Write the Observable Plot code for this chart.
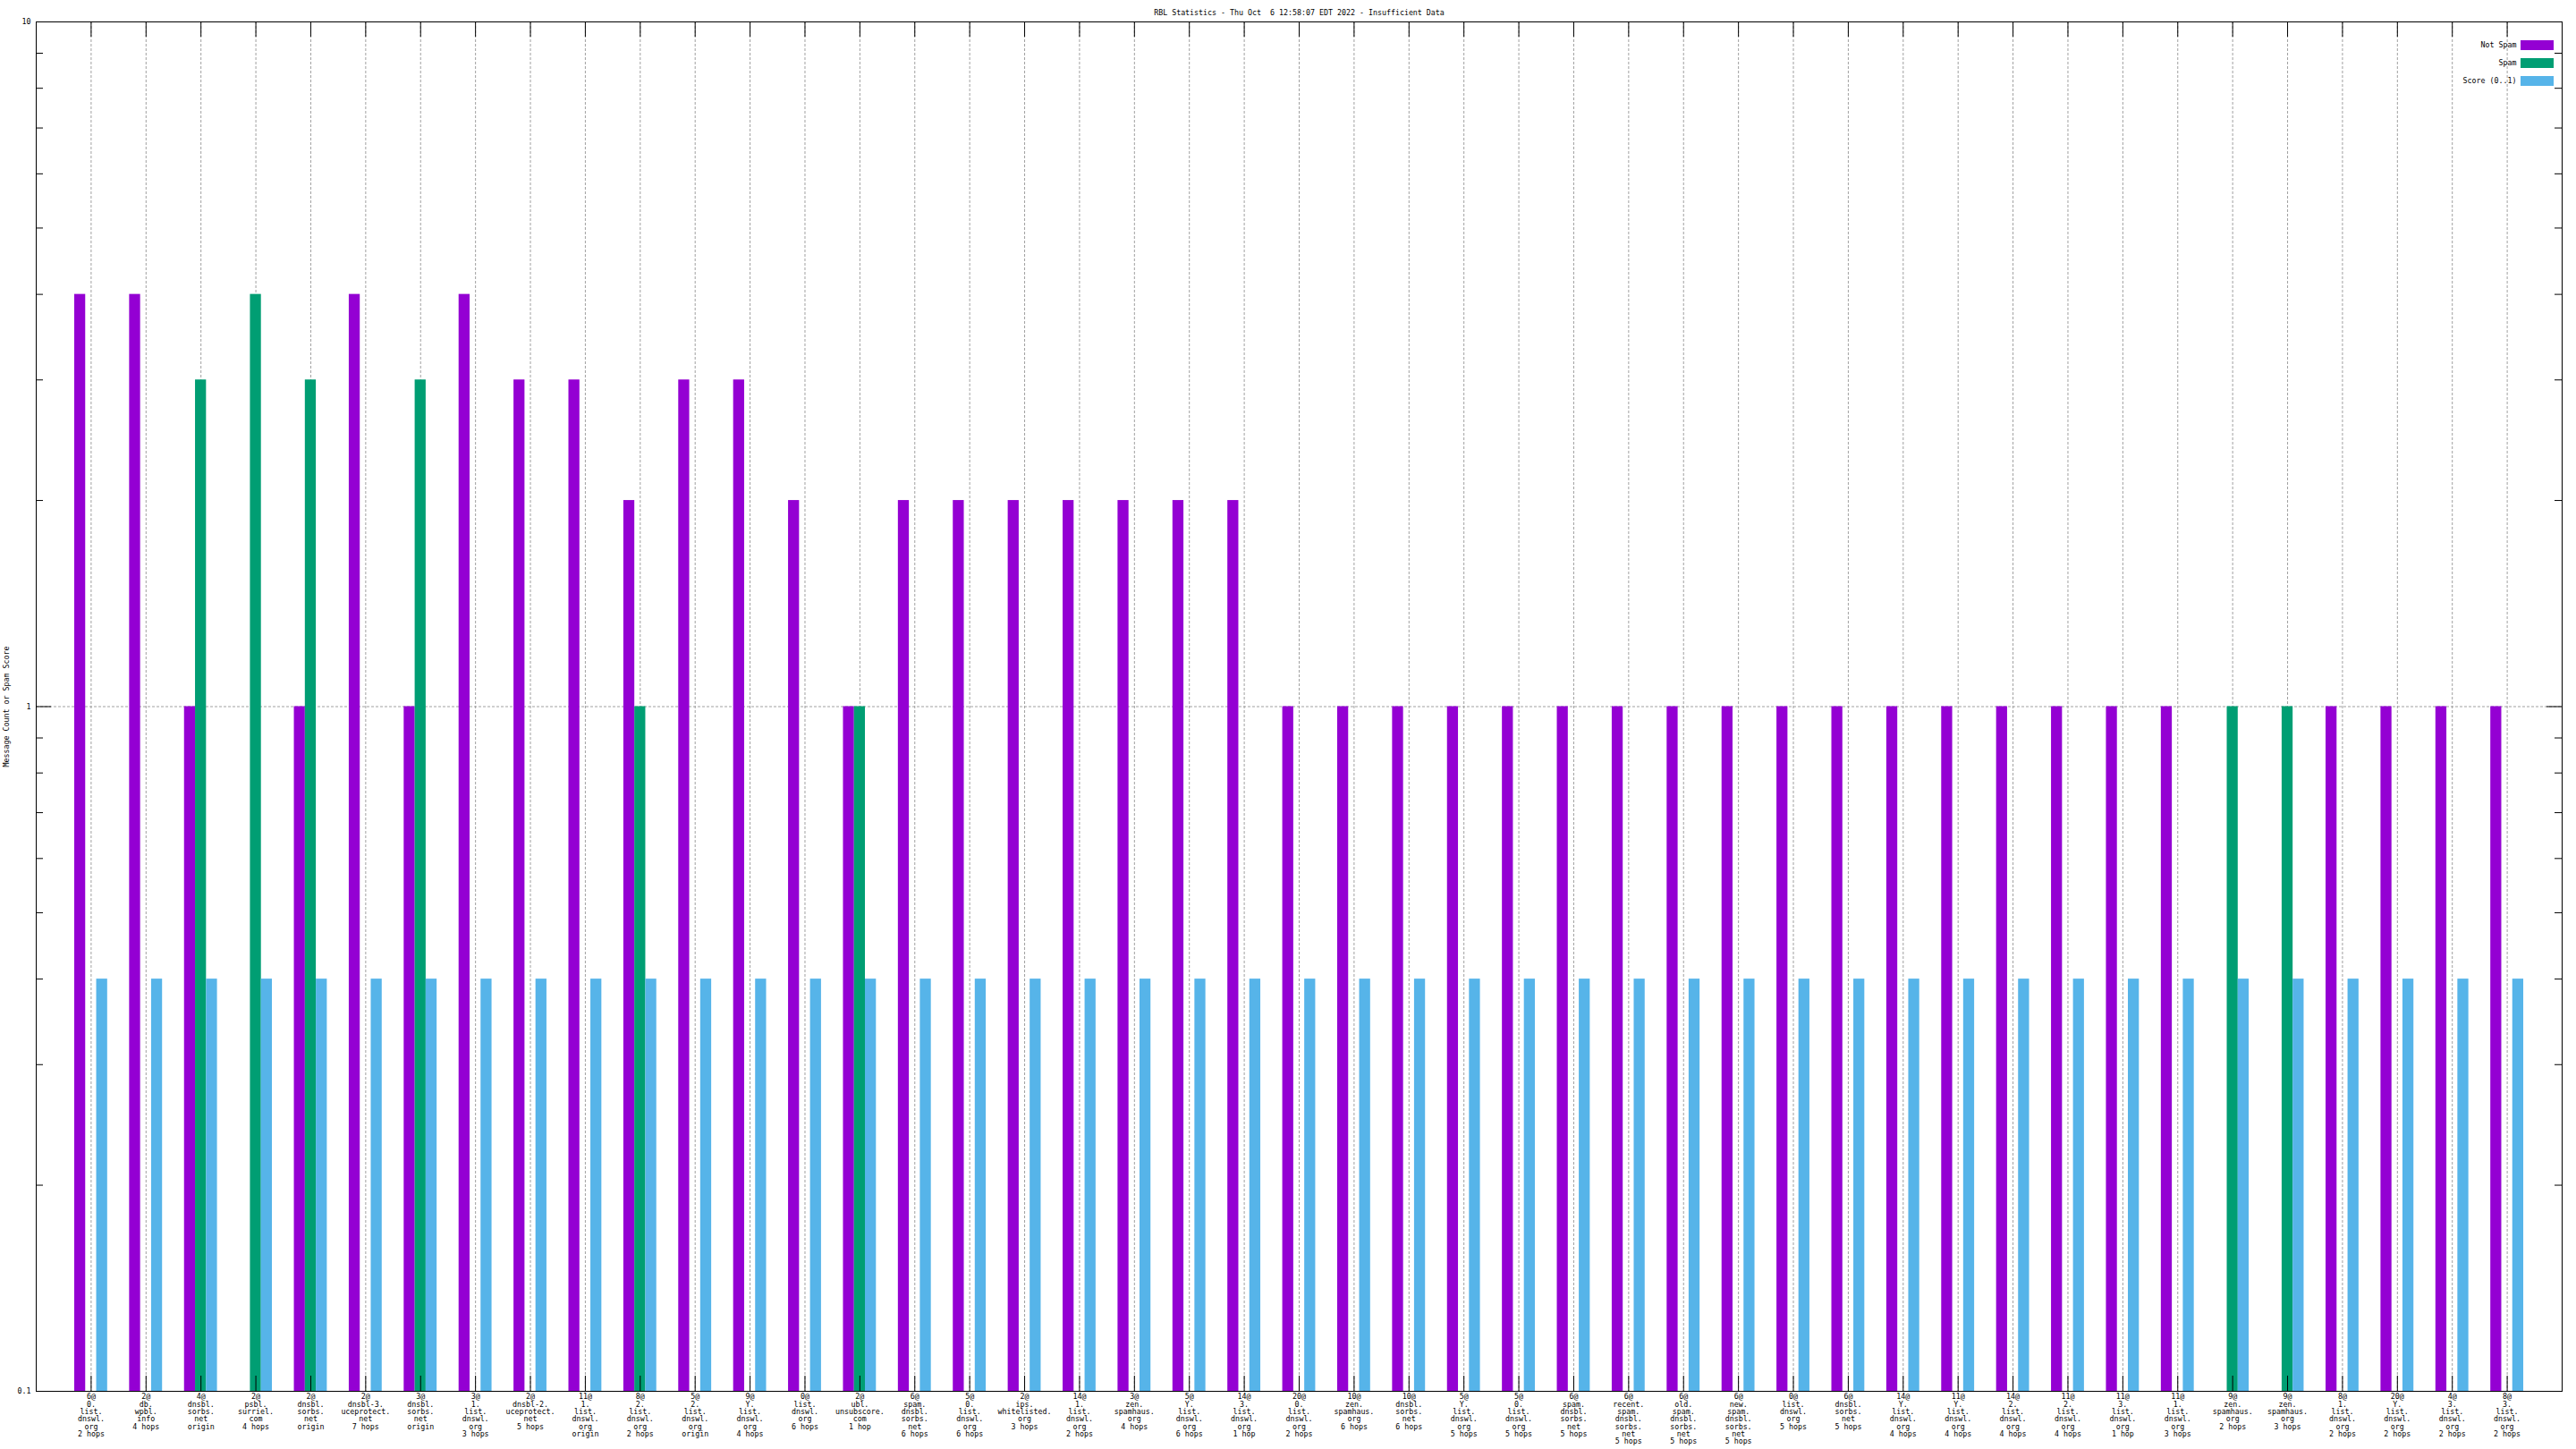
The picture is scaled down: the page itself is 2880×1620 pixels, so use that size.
<!DOCTYPE html>
<html><head><meta charset="utf-8">
<script src="https://cdn.jsdelivr.net/npm/d3@7"></script>
<script src="https://cdn.jsdelivr.net/npm/@observablehq/plot@0.6"></script>
<style>
html,body{margin:0;padding:0;background:#fff;overflow:hidden}
svg text{white-space:pre}
</style>
</head><body><div id="chart"></div>
<script>
const title = "RBL Statistics - Thu Oct  6 12:58:07 EDT 2022 - Insufficient Data";
const yLabel = "Message Count or Spam Score";
const series = ["Not Spam", "Spam", "Score (0..1)"];
const colors = ["#9400d3", "#009e73", "#56b4e9"];

const categories = [
  "6@\n0.\nlist.\ndnswl.\norg\n2 hops",
  "2@\ndb.\nwpbl.\ninfo\n4 hops",
  "4@\ndnsbl.\nsorbs.\nnet\norigin",
  "2@\npsbl.\nsurriel.\ncom\n4 hops",
  "2@\ndnsbl.\nsorbs.\nnet\norigin",
  "2@\ndnsbl-3.\nuceprotect.\nnet\n7 hops",
  "3@\ndnsbl.\nsorbs.\nnet\norigin",
  "3@\n1.\nlist.\ndnswl.\norg\n3 hops",
  "2@\ndnsbl-2.\nuceprotect.\nnet\n5 hops",
  "11@\n1.\nlist.\ndnswl.\norg\norigin",
  "8@\n2.\nlist.\ndnswl.\norg\n2 hops",
  "5@\n2.\nlist.\ndnswl.\norg\norigin",
  "9@\nY.\nlist.\ndnswl.\norg\n4 hops",
  "0@\nlist.\ndnswl.\norg\n6 hops",
  "2@\nubl.\nunsubscore.\ncom\n1 hop",
  "6@\nspam.\ndnsbl.\nsorbs.\nnet\n6 hops",
  "5@\n0.\nlist.\ndnswl.\norg\n6 hops",
  "2@\nips.\nwhitelisted.\norg\n3 hops",
  "14@\n1.\nlist.\ndnswl.\norg\n2 hops",
  "3@\nzen.\nspamhaus.\norg\n4 hops",
  "5@\nY.\nlist.\ndnswl.\norg\n6 hops",
  "14@\n3.\nlist.\ndnswl.\norg\n1 hop",
  "20@\n0.\nlist.\ndnswl.\norg\n2 hops",
  "10@\nzen.\nspamhaus.\norg\n6 hops",
  "10@\ndnsbl.\nsorbs.\nnet\n6 hops",
  "5@\nY.\nlist.\ndnswl.\norg\n5 hops",
  "5@\n0.\nlist.\ndnswl.\norg\n5 hops",
  "6@\nspam.\ndnsbl.\nsorbs.\nnet\n5 hops",
  "6@\nrecent.\nspam.\ndnsbl.\nsorbs.\nnet\n5 hops",
  "6@\nold.\nspam.\ndnsbl.\nsorbs.\nnet\n5 hops",
  "6@\nnew.\nspam.\ndnsbl.\nsorbs.\nnet\n5 hops",
  "0@\nlist.\ndnswl.\norg\n5 hops",
  "6@\ndnsbl.\nsorbs.\nnet\n5 hops",
  "14@\nY.\nlist.\ndnswl.\norg\n4 hops",
  "11@\nY.\nlist.\ndnswl.\norg\n4 hops",
  "14@\n2.\nlist.\ndnswl.\norg\n4 hops",
  "11@\n2.\nlist.\ndnswl.\norg\n4 hops",
  "11@\n3.\nlist.\ndnswl.\norg\n1 hop",
  "11@\n1.\nlist.\ndnswl.\norg\n3 hops",
  "9@\nzen.\nspamhaus.\norg\n2 hops",
  "9@\nzen.\nspamhaus.\norg\n3 hops",
  "8@\n1.\nlist.\ndnswl.\norg\n2 hops",
  "20@\nY.\nlist.\ndnswl.\norg\n2 hops",
  "4@\n3.\nlist.\ndnswl.\norg\n2 hops",
  "8@\n3.\nlist.\ndnswl.\norg\n2 hops"
];

const notSpam = [4,4,1,0,1,4,1,4,3,3,2,3,3,2,1,2,2,2,2,2,2,2,
                 1,1,1,1,1,1,1,1,1,1,1,1,1,1,1,1,1,
                 0,0,1,1,1,1];
const spam    = [0,0,3,4,3,0,3,0,0,0,1,0,0,0,1,0,0,0,0,0,0,0,
                 0,0,0,0,0,0,0,0,0,0,0,0,0,0,0,0,0,
                 1,1,0,0,0,0];
const score   = [0.4,0.4,0.4,0.4,0.4,0.4,0.4,0.4,0.4,0.4,0.4,0.4,0.4,0.4,0.4,
                 0.4,0.4,0.4,0.4,0.4,0.4,0.4,0.4,0.4,0.4,0.4,0.4,0.4,0.4,0.4,
                 0.4,0.4,0.4,0.4,0.4,0.4,0.4,0.4,0.4,0.4,0.4,0.4,0.4,0.4,0.4];

const yTicks = [0.1, 1, 10];
const yTickLabels = ["0.1", "1", "10"];
const yMinorTicks = [0.2,0.3,0.4,0.5,0.6,0.7,0.8,0.9,2,3,4,5,6,7,8,9];

// ---- build table ----
const valueSets = [notSpam, spam, score];
const rows = [];
categories.forEach((c, i) => {
  valueSets.forEach((vals, s) => {
    if (vals[i] > 0) rows.push({idx: i + 1, s, series: series[s], value: vals[i]});
  });
});
const idx = categories.map((c, i) => i + 1);

const W = 2880, H = 1620, mL = 40, mR = 16, mT = 24, mB = 65;
const innerW = W - mL - mR, innerH = H - mT - mB;
const font = "DejaVu Sans Mono";
const fs = 8.3;
const grid = "#a0a0a0";
const bw = 0.2; // bar width in group units

const legendSwatches = (index, scales, values, dims) => {
  const g = d3.create("svg:g");
  const xr = dims.width - dims.marginRight;
  series.forEach((s, i) => {
    g.append("rect")
      .attr("x", xr - 46).attr("y", dims.marginTop + 21 + 20 * i)
      .attr("width", 37).attr("height", 11)
      .attr("fill", scales.color ? scales.color(s) : colors[i]);
  });
  return g.node();
};

const chart = Plot.plot({
  width: W, height: H,
  marginLeft: mL, marginRight: mR, marginTop: mT, marginBottom: mB,
  style: {fontFamily: font, fontSize: fs + "px", background: "#fff", color: "#000"},
  x: {type: "linear", domain: [0, idx.length + 1]},
  y: {type: "log", domain: [0.1, 10]},
  color: {domain: series, range: colors},
  marks: [
    Plot.ruleX(idx, {x: d => d, stroke: grid, strokeDasharray: "3,2"}),
    Plot.ruleY([1], {y: d => d, stroke: grid, strokeDasharray: "3,2"}),
    Plot.rectY(rows, {
      x1: d => d.idx + (d.s - 1) * bw - bw / 2,
      x2: d => d.idx + (d.s - 1) * bw + bw / 2,
      y1: 0.1, y2: "value", fill: "series"
    }),
    // x ticks bottom and top (mirror)
    Plot.tickX(idx, {x: d => d, stroke: "#000", insetTop: innerH - 17}),
    Plot.tickX(idx, {x: d => d, stroke: "#000", insetBottom: innerH - 17}),
    // y minor ticks left and right
    Plot.tickY(yMinorTicks, {y: d => d, stroke: "#000", insetRight: innerW - 8}),
    Plot.tickY(yMinorTicks, {y: d => d, stroke: "#000", insetLeft: innerW - 8}),
    // y major ticks
    Plot.tickY(yTicks, {y: d => d, stroke: "#000", insetRight: innerW - 17}),
    Plot.tickY(yTicks, {y: d => d, stroke: "#000", insetLeft: innerW - 17}),
    Plot.frame({stroke: "#000"}),
    Plot.axisY(yTicks, {tickSize: 0, tickPadding: 6, label: null, fontSize: fs,
      tickFormat: d => yTickLabels[yTicks.indexOf(d)]}),
    Plot.axisX(idx, {tickSize: 0, tickPadding: 3, label: null, fontSize: fs, lineHeight: 1,
      tickFormat: d => categories[d - 1]}),
    Plot.text([yLabel], {frameAnchor: "left", rotate: -90, dx: -33, fontSize: fs,
      textAnchor: "middle", lineAnchor: "middle"}),
    Plot.text([title], {frameAnchor: "top", dy: -10, fontSize: fs,
      textAnchor: "middle", lineAnchor: "middle"}),
    ...series.map((s, i) => Plot.text([s], {frameAnchor: "top-right", dx: -51, dy: 26 + 20 * i,
      textAnchor: "end", lineAnchor: "middle", fontSize: fs})),
    legendSwatches
  ]
});
document.getElementById("chart").appendChild(chart);
</script>
</body></html>
